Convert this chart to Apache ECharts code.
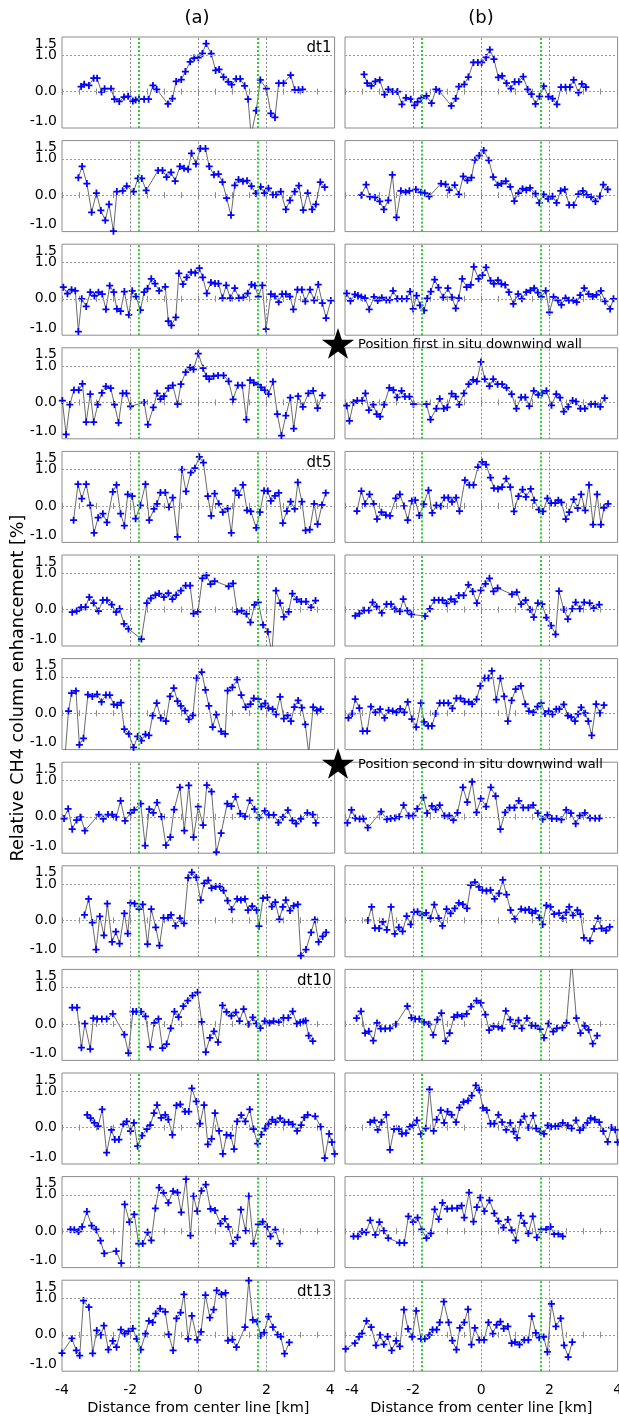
<!DOCTYPE html>
<html>
<head>
<meta charset="utf-8">
<script src="https://cdn.jsdelivr.net/npm/echarts@6/dist/echarts.min.js"></script>
<style>
  html, body { margin: 0; padding: 0; background: #fff; }
  #main { width: 619px; height: 1418px; }
</style>
</head>
<body>
<div id="main"></div>
<script>
// [distance from center line km, relative CH4 enhancement %], column (a)
const a1 = [[-3.44,0.14],[-3.35,0.20],[-3.21,0.17],[-3.07,0.37],[-2.97,0.37],[-2.84,-0.01],[-2.75,0.08],[-2.56,0.08],[-2.46,-0.21],[-2.32,-0.27],[-2.18,-0.15],[-2.06,-0.13],[-1.92,-0.26],[-1.84,-0.23],[-1.74,-0.21],[-1.59,-0.21],[-1.46,-0.21],[-1.33,0.17],[-1.22,0.06],[-0.89,-0.34],[-0.76,-0.19],[-0.65,0.28],[-0.50,0.33],[-0.38,0.55],[-0.24,0.82],[-0.12,0.92],[0.0,0.93],[0.12,1.05],[0.23,1.32],[0.38,1.04],[0.51,0.58],[0.61,0.61],[0.74,0.40],[0.88,0.27],[0.98,0.19],[1.11,0.35],[1.23,0.35],[1.36,0.16],[1.46,-0.21],[1.55,-1.2],[1.70,-0.52],[1.82,0.32],[2.0,0.08],[2.13,-0.60],[2.25,-0.71],[2.36,0.23],[2.50,0.23],[2.71,0.45],[2.83,0.05],[2.94,0.05],[3.06,0.06]];
const a2 = [[-3.52,0.48],[-3.41,0.79],[-3.27,0.32],[-3.13,-0.47],[-2.99,0.06],[-2.86,-0.42],[-2.73,-0.69],[-2.62,-0.25],[-2.49,-0.99],[-2.39,0.10],[-2.22,0.12],[-2.10,0.25],[-1.90,0.10],[-1.77,0.46],[-1.66,0.46],[-1.53,0.13],[-1.18,0.68],[-1.05,0.68],[-0.93,0.50],[-0.80,0.63],[-0.68,0.39],[-0.54,0.79],[-0.42,0.74],[-0.30,0.71],[-0.20,1.15],[-0.07,0.86],[0.06,1.28],[0.21,1.28],[0.32,0.79],[0.46,0.56],[0.59,0.58],[0.71,0.36],[0.83,-0.08],[0.96,-0.55],[1.07,0.27],[1.18,0.43],[1.31,0.38],[1.43,0.40],[1.56,0.25],[1.69,0.05],[1.83,0.23],[1.94,0.06],[2.06,0.19],[2.19,0.01],[2.28,0.01],[2.42,0.10],[2.57,-0.39],[2.69,-0.14],[2.83,0.10],[2.95,0.26],[3.08,-0.41],[3.21,0.06],[3.34,-0.39],[3.45,-0.25],[3.58,0.36],[3.71,0.22]];
const a3 = [[-3.96,0.32],[-3.84,0.14],[-3.72,0.25],[-3.61,0.22],[-3.52,-0.90],[-3.42,0.0],[-3.29,-0.21],[-3.17,0.18],[-3.05,0.08],[-2.93,0.18],[-2.82,0.13],[-2.71,-0.29],[-2.60,0.36],[-2.48,0.18],[-2.39,-0.28],[-2.28,-0.34],[-2.17,0.20],[-2.04,-0.44],[-1.94,0.22],[-1.83,0.06],[-1.70,-0.31],[-1.59,0.18],[-1.49,0.28],[-1.38,0.55],[-1.27,0.42],[-1.15,0.22],[-0.97,0.33],[-0.88,-0.61],[-0.79,-0.73],[-0.66,-0.51],[-0.57,0.70],[-0.45,0.40],[-0.34,0.59],[-0.21,0.73],[-0.09,0.71],[0.03,0.84],[0.13,0.59],[0.25,0.15],[0.37,0.45],[0.49,0.42],[0.59,0.42],[0.71,0.02],[0.82,0.37],[0.94,0.02],[1.07,0.29],[1.19,0.02],[1.32,0.04],[1.45,0.15],[1.56,0.39],[1.66,0.36],[1.76,0.06],[1.88,0.37],[1.99,-0.83],[2.13,0.13],[2.25,0.07],[2.36,-0.09],[2.46,0.13],[2.57,0.13],[2.69,0.06],[2.79,-0.29],[2.91,0.25],[3.04,0.25],[3.14,-0.07],[3.28,0.25],[3.40,-0.04],[3.52,0.39],[3.64,-0.12],[3.75,-0.53],[3.89,-0.05]];
const a4 = [[-3.99,0.05],[-3.88,-0.88],[-3.77,-0.06],[-3.65,0.34],[-3.51,0.34],[-3.40,0.51],[-3.29,-0.54],[-3.17,0.23],[-3.07,-0.54],[-2.95,-0.06],[-2.83,0.26],[-2.71,0.44],[-2.57,0.39],[-2.46,-0.06],[-2.34,-0.56],[-2.22,0.25],[-2.11,0.25],[-1.99,-0.11],[-1.59,0.0],[-1.48,-0.61],[-1.32,-0.14],[-1.21,0.25],[-1.11,0.09],[-1.01,0.17],[-0.88,0.39],[-0.75,0.47],[-0.61,-0.05],[-0.51,0.50],[-0.37,0.83],[-0.24,0.96],[-0.14,0.91],[0.0,1.34],[0.14,0.94],[0.23,0.72],[0.32,0.64],[0.45,0.72],[0.58,0.74],[0.74,0.74],[0.89,0.58],[1.02,0.08],[1.16,0.47],[1.29,0.47],[1.41,-0.47],[1.52,0.61],[1.63,0.54],[1.75,0.49],[1.84,0.41],[1.95,0.34],[2.06,0.23],[2.19,0.57],[2.32,-0.32],[2.44,-0.91],[2.57,-0.36],[2.70,0.13],[2.80,-0.72],[2.93,0.17],[3.07,-0.12],[3.23,0.25],[3.37,0.32],[3.50,-0.16],[3.64,0.19]];
const a5 = [[-3.66,-0.39],[-3.53,0.60],[-3.42,0.20],[-3.29,0.60],[-3.17,0.02],[-3.06,-0.74],[-2.94,-0.32],[-2.80,-0.21],[-2.68,-0.45],[-2.51,0.39],[-2.40,0.58],[-2.28,-0.21],[-2.17,-0.54],[-2.07,0.32],[-1.94,0.27],[-1.84,-0.35],[-1.70,0.02],[-1.55,0.60],[-1.44,-0.39],[-1.30,-0.08],[-1.21,0.06],[-1.11,0.37],[-0.97,0.37],[-0.86,-0.03],[-0.75,0.23],[-0.61,-0.85],[-0.48,1.0],[-0.36,0.40],[-0.22,0.92],[-0.10,1.04],[0.03,1.35],[0.15,1.19],[0.28,0.27],[0.38,-0.27],[0.48,0.34],[0.60,0.06],[0.72,-0.17],[0.86,-0.07],[0.97,-0.74],[1.09,0.42],[1.19,0.30],[1.31,0.58],[1.43,-0.12],[1.54,-0.15],[1.70,-0.60],[1.81,-0.17],[1.93,0.42],[2.04,0.41],[2.13,0.14],[2.25,0.28],[2.36,0.36],[2.48,-0.47],[2.60,-0.14],[2.71,0.12],[2.83,-0.08],[2.92,0.65],[3.04,0.12],[3.15,-0.67],[3.27,-0.65],[3.40,0.06],[3.50,-0.50],[3.63,0.03],[3.74,0.36]];
const a6 = [[-3.70,-0.07],[-3.57,-0.04],[-3.44,0.06],[-3.31,0.07],[-3.20,0.34],[-3.07,0.18],[-2.93,-0.04],[-2.80,0.26],[-2.68,0.26],[-2.54,0.14],[-2.41,-0.07],[-2.31,0.02],[-2.18,-0.39],[-2.05,-0.53],[-1.67,-0.81],[-1.51,0.18],[-1.39,0.31],[-1.26,0.40],[-1.15,0.44],[-1.01,0.34],[-0.88,0.45],[-0.76,0.29],[-0.65,0.40],[-0.51,0.52],[-0.37,0.66],[-0.24,0.66],[-0.14,-0.11],[-0.01,-0.06],[0.12,0.86],[0.24,0.94],[0.36,0.70],[0.48,0.78],[0.89,0.64],[1.02,0.72],[1.14,-0.06],[1.27,-0.03],[1.41,-0.12],[1.53,-0.35],[1.65,0.13],[1.76,0.20],[1.90,-0.42],[2.04,-0.61],[2.16,-1.2],[2.28,0.52],[2.40,0.18],[2.51,-0.20],[2.65,-0.06],[2.76,0.44],[2.89,0.28],[3.02,0.22],[3.16,0.22],[3.31,0.06],[3.44,0.25]];
const a7 = [[-3.92,-1.3],[-3.81,0.06],[-3.72,0.55],[-3.59,0.61],[-3.49,-0.87],[-3.37,-0.69],[-3.24,0.51],[-3.11,0.46],[-2.97,0.52],[-2.84,0.31],[-2.71,0.50],[-2.60,0.50],[-2.48,0.24],[-2.38,0.22],[-2.27,0.29],[-2.17,-0.44],[-2.04,-0.57],[-1.90,-0.94],[-1.78,-0.64],[-1.67,-0.75],[-1.55,-0.58],[-1.45,-0.61],[-1.34,-0.07],[-1.22,0.28],[-1.10,-0.13],[-0.95,-0.22],[-0.83,0.46],[-0.72,0.69],[-0.61,0.33],[-0.51,0.20],[-0.39,0.07],[-0.28,-0.17],[-0.16,-0.06],[-0.05,0.97],[0.10,1.13],[0.21,0.64],[0.31,0.20],[0.42,-0.38],[0.53,-0.04],[0.67,-0.50],[0.79,-0.57],[0.86,0.62],[1.00,0.71],[1.14,0.92],[1.26,0.50],[1.39,0.17],[1.53,0.25],[1.63,0.41],[1.76,0.39],[1.85,0.18],[1.96,0.27],[2.06,0.14],[2.18,0.11],[2.28,-0.03],[2.40,0.45],[2.51,-0.15],[2.62,-0.06],[2.72,-0.22],[2.82,0.17],[2.93,0.35],[3.04,0.15],[3.14,-0.31],[3.24,-1.1],[3.37,0.17],[3.48,0.07],[3.59,0.11]];
const a8 = [[-3.94,-0.05],[-3.82,0.22],[-3.70,-0.34],[-3.57,-0.09],[-3.45,-0.01],[-3.33,-0.38],[-2.92,0.06],[-2.79,-0.06],[-2.65,0.06],[-2.53,0.06],[-2.41,-0.01],[-2.28,0.44],[-2.15,-0.11],[-1.99,0.11],[-1.88,0.19],[-1.69,0.36],[-1.56,-0.79],[-1.44,0.21],[-1.32,0.11],[-1.21,0.39],[-1.08,0.0],[-0.95,-0.78],[-0.82,-0.56],[-0.71,0.20],[-0.54,0.81],[-0.41,-0.38],[-0.28,0.86],[-0.14,-0.56],[0.0,0.28],[0.14,-0.23],[0.25,0.87],[0.39,0.69],[0.53,-0.97],[0.67,-0.45],[0.85,0.36],[0.97,0.29],[1.09,0.55],[1.23,0.09],[1.37,0.01],[1.51,0.45],[1.65,0.21],[1.78,-0.02],[1.95,0.16],[2.07,0.05],[2.21,0.05],[2.35,-0.16],[2.48,-0.01],[2.63,0.18],[2.76,-0.10],[2.87,-0.19],[3.01,-0.06],[3.20,0.11],[3.36,0.06],[3.45,-0.17]];
const a9 = [[-3.34,0.15],[-3.22,0.59],[-3.11,-0.06],[-3.00,-0.80],[-2.89,0.11],[-2.77,-0.41],[-2.67,0.46],[-2.53,-0.59],[-2.42,-0.31],[-2.31,-0.64],[-2.17,0.19],[-2.07,-0.36],[-1.99,0.48],[-1.87,0.46],[-1.74,0.31],[-1.63,0.44],[-1.49,-0.65],[-1.38,0.31],[-1.25,-0.19],[-1.14,-0.69],[-1.02,0.07],[-0.89,0.07],[-0.80,0.15],[-0.67,-0.15],[-0.54,0.06],[-0.42,-0.08],[-0.30,1.17],[-0.19,1.32],[-0.06,1.18],[0.07,0.56],[0.17,1.02],[0.29,1.10],[0.39,0.89],[0.51,0.93],[0.63,0.93],[0.74,0.82],[0.86,0.54],[0.98,0.30],[1.14,0.59],[1.25,0.56],[1.37,0.59],[1.46,0.28],[1.58,0.39],[1.71,0.28],[1.78,-0.16],[1.90,0.61],[2.02,0.63],[2.16,0.38],[2.26,0.50],[2.38,0.03],[2.48,0.37],[2.57,0.56],[2.69,0.27],[2.80,0.40],[2.92,0.44],[3.01,-0.97],[3.16,-0.80],[3.31,-0.33],[3.42,0.02],[3.53,-0.59],[3.65,-0.44],[3.75,-0.33]];
const a10 = [[-3.70,0.45],[-3.56,0.45],[-3.43,-0.65],[-3.33,0.01],[-3.17,-0.69],[-3.08,0.16],[-2.97,0.14],[-2.83,0.14],[-2.69,0.14],[-2.51,0.28],[-2.17,-0.29],[-2.05,-0.80],[-1.92,0.34],[-1.82,0.34],[-1.68,0.34],[-1.55,0.21],[-1.41,-0.63],[-1.29,0.03],[-1.17,0.14],[-1.05,-0.66],[-0.93,-0.55],[-0.81,-0.12],[-0.70,0.34],[-0.58,0.19],[-0.44,0.49],[-0.31,0.64],[-0.17,0.78],[-0.02,0.87],[0.10,0.06],[0.22,-0.77],[0.34,-0.38],[0.46,-0.20],[0.58,-0.50],[0.71,0.51],[0.83,0.33],[0.97,0.22],[1.10,0.32],[1.21,0.08],[1.33,0.41],[1.47,-0.01],[1.60,0.18],[1.70,0.01],[1.82,-0.11],[1.95,0.08],[2.09,0.03],[2.21,0.08],[2.36,0.05],[2.50,0.17],[2.64,0.17],[2.77,0.35],[2.89,0.01],[2.99,0.05],[3.08,0.06],[3.15,0.09],[3.24,-0.32],[3.36,-0.47]];
const a11 = [[-3.26,0.35],[-3.16,0.26],[-3.05,0.13],[-2.94,0.04],[-2.82,0.50],[-2.69,-0.69],[-2.55,-0.06],[-2.45,-0.33],[-2.33,-0.33],[-2.20,0.09],[-2.10,0.17],[-1.99,-0.10],[-1.89,0.13],[-1.78,-0.51],[-1.65,-0.22],[-1.51,-0.04],[-1.41,0.07],[-1.30,0.40],[-1.21,0.62],[-1.09,0.27],[-0.97,0.35],[-0.88,0.22],[-0.76,-0.20],[-0.64,0.61],[-0.53,0.64],[-0.39,0.44],[-0.28,0.44],[-0.19,1.08],[-0.06,0.72],[0.05,0.11],[0.17,0.62],[0.28,-0.46],[0.39,-0.31],[0.49,0.40],[0.61,-0.09],[0.72,-0.72],[0.83,-0.20],[0.95,-0.22],[1.05,-0.59],[1.14,0.17],[1.26,0.34],[1.38,0.17],[1.51,0.50],[1.62,-0.04],[1.74,-0.44],[1.85,-0.19],[1.96,-0.02],[2.06,0.10],[2.17,0.22],[2.27,0.15],[2.40,0.26],[2.53,0.15],[2.65,0.15],[2.77,0.09],[2.90,-0.09],[3.02,0.07],[3.11,0.28],[3.21,0.35],[3.43,0.31],[3.59,0.02],[3.71,-0.84],[3.84,-0.17],[3.92,-0.40],[4.0,-0.72]];
const a12 = [[-3.75,0.05],[-3.64,0.04],[-3.52,-0.01],[-3.41,0.12],[-3.27,0.54],[-3.13,0.15],[-3.00,0.05],[-2.87,-0.26],[-2.76,-0.61],[-2.41,-0.55],[-2.26,-0.88],[-2.16,0.74],[-2.02,0.25],[-1.88,0.46],[-1.75,-0.34],[-1.63,-0.34],[-1.49,-0.03],[-1.38,-0.25],[-1.26,0.63],[-1.15,1.20],[-1.02,1.05],[-0.88,0.78],[-0.74,1.10],[-0.61,1.06],[-0.50,0.52],[-0.36,1.43],[-0.23,-0.12],[-0.14,0.97],[-0.03,0.55],[0.09,1.11],[0.22,1.28],[0.36,0.61],[0.49,0.57],[0.65,0.21],[0.78,0.34],[0.88,0.12],[1.02,-0.34],[1.15,-0.17],[1.25,0.59],[1.39,0.01],[1.48,0.97],[1.62,-0.34],[1.76,0.19],[1.89,0.26],[2.02,0.12],[2.12,-0.14],[2.26,0.04],[2.39,-0.34]];
const a13 = [[-4.0,-0.50],[-3.71,-0.10],[-3.58,-0.43],[-3.48,-0.57],[-3.37,0.94],[-3.21,0.76],[-3.10,-0.51],[-2.98,0.12],[-2.86,-0.01],[-2.77,0.25],[-2.64,-0.41],[-2.51,-0.17],[-2.40,-0.34],[-2.27,0.14],[-2.16,0.03],[-2.05,0.10],[-1.92,0.17],[-1.81,-0.11],[-1.69,-0.41],[-1.55,0.03],[-1.45,0.38],[-1.34,0.34],[-1.25,0.58],[-1.12,0.72],[-0.97,0.63],[-0.87,0.01],[-0.74,-0.43],[-0.64,0.45],[-0.52,0.61],[-0.42,1.11],[-0.30,-0.11],[-0.19,0.52],[-0.03,-0.14],[0.08,0.08],[0.21,1.09],[0.34,0.47],[0.45,0.69],[0.54,1.22],[0.68,1.11],[0.80,1.15],[0.87,-0.16],[1.00,-0.13],[1.12,-0.34],[1.37,0.21],[1.48,1.49],[1.60,0.41],[1.73,0.36],[1.83,-0.02],[1.93,0.06],[2.06,0.50],[2.19,0.21],[2.33,0.0],[2.42,-0.05],[2.53,-0.52],[2.67,-0.21]];

// column (b)
const b1 = [[-3.44,0.47],[-3.35,0.23],[-3.23,0.16],[-3.11,0.28],[-2.98,0.32],[-2.84,-0.08],[-2.73,0.06],[-2.60,0.0],[-2.46,0.0],[-2.33,-0.35],[-2.21,-0.17],[-2.07,-0.21],[-1.96,-0.38],[-1.87,-0.28],[-1.76,-0.18],[-1.61,-0.12],[-1.46,-0.32],[-1.33,0.06],[-1.23,0.01],[-0.88,-0.39],[-0.75,-0.19],[-0.66,0.14],[-0.50,0.20],[-0.38,0.40],[-0.23,0.80],[-0.10,0.80],[0.01,0.80],[0.14,0.94],[0.25,1.15],[0.37,0.89],[0.50,0.39],[0.61,0.43],[0.74,0.23],[0.87,0.08],[0.98,0.27],[1.10,0.27],[1.23,0.41],[1.36,0.06],[1.47,-0.07],[1.59,-0.34],[1.71,-0.13],[1.83,0.15],[1.97,-0.14],[2.09,-0.19],[2.22,-0.35],[2.34,0.12],[2.47,0.12],[2.60,0.12],[2.71,0.32],[2.85,-0.03],[2.95,0.21],[3.07,0.12]];
const b2 = [[-3.52,0.0],[-3.38,0.29],[-3.27,-0.04],[-3.12,-0.06],[-2.98,-0.17],[-2.86,-0.39],[-2.73,-0.14],[-2.61,0.56],[-2.49,-0.61],[-2.36,0.12],[-2.22,0.08],[-2.11,0.12],[-1.92,0.16],[-1.77,0.08],[-1.66,0.06],[-1.53,-0.03],[-1.18,0.32],[-1.05,0.30],[-0.94,0.14],[-0.78,0.28],[-0.66,0.02],[-0.53,0.52],[-0.41,0.41],[-0.29,0.48],[-0.19,0.97],[-0.06,1.09],[0.07,1.23],[0.22,0.96],[0.35,0.50],[0.48,0.28],[0.59,0.32],[0.72,0.39],[0.85,0.23],[0.97,-0.16],[1.09,0.06],[1.21,0.18],[1.32,0.14],[1.43,0.20],[1.59,0.04],[1.70,-0.21],[1.83,0.02],[1.96,-0.10],[2.09,-0.03],[2.21,-0.21],[2.33,0.12],[2.45,0.16],[2.58,-0.27],[2.71,-0.27],[2.85,0.03],[2.98,0.12],[3.09,0.01],[3.22,-0.05],[3.35,-0.17],[3.48,-0.02],[3.58,0.29],[3.71,0.16]];
const b3 = [[-3.95,0.15],[-3.84,-0.06],[-3.71,0.12],[-3.62,0.09],[-3.52,0.05],[-3.41,0.02],[-3.29,-0.29],[-3.15,0.05],[-3.04,-0.05],[-2.92,0.03],[-2.79,-0.03],[-2.69,-0.03],[-2.59,0.22],[-2.46,0.0],[-2.33,0.0],[-2.19,0.0],[-2.09,0.20],[-2.00,-0.28],[-1.90,0.09],[-1.80,-0.18],[-1.68,-0.32],[-1.59,0.01],[-1.48,0.20],[-1.37,0.53],[-1.26,0.31],[-1.12,0.04],[-0.98,0.29],[-0.86,0.04],[-0.75,-0.26],[-0.66,0.02],[-0.56,0.55],[-0.43,0.32],[-0.31,0.38],[-0.22,0.88],[-0.08,0.55],[0.03,0.65],[0.14,0.86],[0.27,0.50],[0.37,0.41],[0.49,0.51],[0.59,0.41],[0.70,0.38],[0.81,0.18],[0.94,-0.14],[1.08,0.13],[1.19,0.0],[1.32,0.18],[1.44,0.23],[1.55,0.29],[1.66,0.17],[1.76,0.05],[1.89,0.22],[2.00,-0.37],[2.12,0.05],[2.25,-0.04],[2.35,-0.17],[2.47,0.02],[2.57,-0.04],[2.70,-0.04],[2.80,-0.09],[2.90,0.10],[3.02,0.29],[3.15,0.13],[3.27,0.06],[3.38,0.11],[3.51,0.22],[3.63,-0.07],[3.78,-0.28],[3.88,0.0]];
const b4 = [[-3.95,-0.09],[-3.87,-0.51],[-3.75,0.0],[-3.64,0.05],[-3.50,0.05],[-3.40,0.25],[-3.30,-0.21],[-3.17,-0.06],[-3.07,-0.32],[-2.97,-0.39],[-2.85,-0.06],[-2.70,0.40],[-2.58,0.34],[-2.47,0.14],[-2.34,0.32],[-2.24,0.16],[-2.11,0.16],[-1.99,-0.05],[-1.61,-0.05],[-1.49,-0.47],[-1.32,-0.17],[-1.22,0.10],[-1.10,-0.17],[-1.00,-0.14],[-0.87,0.24],[-0.75,0.16],[-0.65,-0.06],[-0.51,0.25],[-0.37,0.50],[-0.24,0.62],[-0.13,0.58],[-0.01,1.11],[0.10,0.64],[0.24,0.45],[0.35,0.64],[0.48,0.50],[0.61,0.50],[0.74,0.40],[0.89,0.23],[1.03,-0.17],[1.17,0.14],[1.29,0.14],[1.41,-0.10],[1.54,0.32],[1.67,0.21],[1.78,0.25],[1.91,0.32],[2.06,-0.08],[2.20,0.23],[2.31,0.13],[2.42,-0.25],[2.55,-0.12],[2.68,0.05],[2.78,0.02],[2.91,-0.17],[3.04,-0.17],[3.22,-0.05],[3.34,-0.05],[3.49,-0.12],[3.62,0.12]];
const b5 = [[-3.65,-0.14],[-3.52,0.41],[-3.41,0.06],[-3.28,0.32],[-3.16,0.06],[-3.06,-0.36],[-2.93,-0.17],[-2.80,-0.25],[-2.68,-0.27],[-2.51,0.21],[-2.39,0.32],[-2.27,0.0],[-2.16,-0.39],[-2.04,0.14],[-1.94,0.16],[-1.82,-0.26],[-1.69,0.05],[-1.55,0.43],[-1.44,-0.19],[-1.32,0.02],[-1.19,-0.01],[-1.09,0.23],[-0.97,0.23],[-0.86,0.11],[-0.74,0.23],[-0.64,-0.14],[-0.48,0.71],[-0.35,0.58],[-0.23,0.58],[-0.10,1.07],[0.02,1.21],[0.14,1.14],[0.27,0.78],[0.37,0.49],[0.49,0.47],[0.61,0.52],[0.73,0.75],[0.85,0.52],[0.96,-0.15],[1.09,0.27],[1.21,0.45],[1.31,0.25],[1.45,0.47],[1.55,0.16],[1.69,-0.10],[1.81,-0.15],[1.94,0.21],[2.05,0.08],[2.17,0.08],[2.26,0.16],[2.35,0.10],[2.48,-0.36],[2.58,-0.17],[2.71,0.18],[2.83,-0.06],[2.93,0.32],[3.05,-0.12],[3.16,0.58],[3.28,-0.51],[3.40,0.32],[3.51,-0.51],[3.60,-0.05],[3.72,0.06]];
const b6 = [[-3.70,-0.17],[-3.58,-0.11],[-3.44,-0.02],[-3.30,-0.02],[-3.19,0.20],[-3.07,0.08],[-2.92,-0.09],[-2.78,0.15],[-2.65,0.15],[-2.54,0.01],[-2.39,-0.05],[-2.29,0.29],[-2.17,-0.03],[-2.05,-0.13],[-1.65,-0.18],[-1.51,0.02],[-1.38,0.26],[-1.25,0.26],[-1.14,0.26],[-1.02,0.17],[-0.89,0.29],[-0.78,0.22],[-0.66,0.39],[-0.52,0.39],[-0.38,0.68],[-0.25,0.50],[-0.13,0.18],[-0.01,0.53],[0.12,0.71],[0.24,0.86],[0.36,0.50],[0.48,0.59],[0.90,0.42],[1.04,0.48],[1.17,0.15],[1.30,0.26],[1.43,0.0],[1.54,-0.21],[1.66,0.18],[1.78,0.15],[1.91,-0.22],[2.05,-0.44],[2.18,-0.68],[2.28,0.51],[2.42,0.0],[2.54,-0.26],[2.67,0.02],[2.77,0.20],[2.89,0.02],[3.02,0.20],[3.18,0.18],[3.30,0.04],[3.46,0.14]];
const b7 = [[-3.90,-0.13],[-3.79,-0.01],[-3.70,0.39],[-3.58,0.14],[-3.48,-0.49],[-3.35,-0.49],[-3.24,0.18],[-3.11,0.02],[-2.97,0.11],[-2.84,-0.13],[-2.72,0.08],[-2.60,0.06],[-2.49,0.02],[-2.38,0.12],[-2.26,0.02],[-2.16,0.31],[-2.04,-0.16],[-1.91,-0.38],[-1.77,0.28],[-1.68,-0.24],[-1.56,-0.35],[-1.45,-0.35],[-1.34,-0.01],[-1.22,0.28],[-1.10,0.28],[-0.97,0.28],[-0.85,0.13],[-0.73,0.41],[-0.61,0.41],[-0.49,0.32],[-0.37,0.31],[-0.27,0.25],[-0.14,0.38],[-0.03,0.75],[0.10,0.97],[0.21,0.97],[0.31,1.16],[0.44,0.37],[0.56,0.96],[0.67,0.46],[0.78,-0.22],[0.89,0.35],[1.01,0.66],[1.16,0.75],[1.29,0.25],[1.40,0.06],[1.53,0.02],[1.65,0.18],[1.76,0.28],[1.87,-0.01],[1.98,0.06],[2.09,-0.03],[2.20,0.11],[2.29,0.11],[2.42,0.24],[2.54,-0.07],[2.64,-0.11],[2.75,-0.22],[2.84,-0.02],[2.93,0.16],[3.05,0.0],[3.14,-0.22],[3.24,-0.61],[3.37,0.25],[3.48,0.0],[3.60,0.22]];
const b8 = [[-3.93,-0.17],[-3.81,0.19],[-3.70,-0.03],[-3.57,-0.06],[-3.46,-0.06],[-3.33,-0.30],[-2.94,0.14],[-2.77,-0.07],[-2.66,-0.05],[-2.54,-0.03],[-2.41,0.0],[-2.28,0.32],[-2.13,0.03],[-2.00,0.03],[-1.88,0.22],[-1.70,0.53],[-1.59,0.10],[-1.45,0.30],[-1.34,0.20],[-1.22,0.32],[-1.08,0.03],[-0.94,0.03],[-0.82,-0.09],[-0.70,0.11],[-0.54,0.81],[-0.41,0.40],[-0.27,0.96],[-0.14,0.12],[-0.01,0.50],[0.14,0.28],[0.28,0.81],[0.42,0.57],[0.56,-0.34],[0.70,0.12],[0.83,0.25],[0.97,0.25],[1.10,0.44],[1.23,0.25],[1.38,0.25],[1.52,0.32],[1.66,0.10],[1.80,-0.07],[1.94,0.05],[2.07,-0.05],[2.21,-0.05],[2.35,-0.08],[2.49,0.19],[2.63,0.10],[2.77,-0.19],[2.89,0.03],[3.04,0.11],[3.19,-0.03],[3.34,-0.04],[3.46,-0.04]];
const b9 = [[-3.33,0.0],[-3.22,0.37],[-3.12,-0.21],[-3.00,-0.22],[-2.89,-0.04],[-2.77,-0.26],[-2.65,0.37],[-2.54,-0.37],[-2.42,-0.19],[-2.31,-0.30],[-2.19,0.12],[-2.07,-0.11],[-1.98,0.23],[-1.87,0.24],[-1.74,0.14],[-1.62,0.21],[-1.49,0.06],[-1.38,0.43],[-1.25,0.06],[-1.14,-0.15],[-1.02,0.31],[-0.90,0.19],[-0.78,0.33],[-0.66,0.48],[-0.54,0.44],[-0.42,0.33],[-0.31,0.97],[-0.19,1.05],[-0.07,0.92],[0.03,0.83],[0.15,0.81],[0.27,0.83],[0.39,0.59],[0.52,0.74],[0.63,1.11],[0.74,0.71],[0.86,0.28],[0.98,0.04],[1.17,0.31],[1.29,0.28],[1.40,0.30],[1.49,0.20],[1.59,0.26],[1.70,0.07],[1.80,-0.11],[1.91,0.41],[2.03,0.37],[2.14,0.17],[2.28,0.20],[2.39,0.06],[2.49,0.22],[2.58,0.37],[2.69,0.14],[2.82,0.28],[2.91,0.17],[3.01,-0.48],[3.19,-0.56],[3.31,-0.23],[3.42,0.06],[3.53,-0.22],[3.66,-0.28],[3.77,-0.18]];
const b10 = [[-3.66,0.16],[-3.53,0.35],[-3.41,-0.25],[-3.30,-0.20],[-3.17,-0.46],[-3.06,0.03],[-2.95,-0.13],[-2.82,-0.13],[-2.68,-0.12],[-2.51,-0.01],[-2.17,0.49],[-2.05,0.17],[-1.94,0.14],[-1.82,0.14],[-1.68,0.05],[-1.54,-0.01],[-1.41,-0.30],[-1.29,0.12],[-1.17,0.30],[-1.05,-0.47],[-0.93,-0.25],[-0.80,0.19],[-0.70,0.25],[-0.57,0.21],[-0.43,0.28],[-0.30,0.48],[-0.14,0.64],[-0.01,0.58],[0.12,0.26],[0.23,-0.17],[0.36,-0.06],[0.50,-0.08],[0.61,-0.12],[0.72,0.36],[0.85,0.12],[0.97,-0.06],[1.09,0.10],[1.19,-0.12],[1.34,0.16],[1.47,-0.04],[1.59,-0.05],[1.73,-0.14],[1.84,-0.38],[1.97,0.01],[2.11,-0.21],[2.22,-0.12],[2.38,-0.10],[2.50,0.03],[2.65,1.75],[2.79,0.16],[2.91,-0.25],[3.04,-0.05],[3.15,-0.16],[3.27,-0.54],[3.40,-0.32]];
const b11 = [[-3.26,0.15],[-3.14,0.20],[-3.04,-0.06],[-2.93,0.15],[-2.79,0.35],[-2.68,-0.61],[-2.56,-0.04],[-2.42,-0.04],[-2.33,-0.17],[-2.21,-0.15],[-2.10,0.02],[-2.00,0.07],[-1.89,0.20],[-1.77,-0.18],[-1.63,-0.02],[-1.52,1.05],[-1.40,-0.09],[-1.31,0.22],[-1.19,0.48],[-1.09,0.13],[-0.99,0.44],[-0.87,0.35],[-0.74,0.15],[-0.64,0.55],[-0.52,0.70],[-0.39,0.74],[-0.28,0.88],[-0.16,1.16],[-0.06,1.03],[0.05,0.54],[0.16,0.48],[0.27,0.11],[0.38,0.11],[0.50,0.35],[0.61,0.15],[0.73,-0.06],[0.85,0.13],[0.95,-0.11],[1.05,-0.28],[1.15,0.15],[1.26,0.31],[1.38,0.0],[1.52,0.33],[1.61,-0.02],[1.73,-0.11],[1.84,-0.17],[1.95,0.06],[2.05,0.02],[2.17,0.04],[2.26,0.04],[2.39,0.13],[2.54,0.06],[2.65,-0.02],[2.78,0.20],[2.89,-0.07],[2.99,0.0],[3.11,0.13],[3.21,0.26],[3.33,0.22],[3.46,0.15],[3.58,-0.10],[3.71,-0.39],[3.82,0.0],[3.93,-0.06],[4.0,-0.40]];
const b12 = [[-3.75,-0.14],[-3.62,-0.14],[-3.50,-0.01],[-3.38,-0.03],[-3.26,0.30],[-3.11,-0.10],[-2.99,0.25],[-2.86,0.01],[-2.73,-0.19],[-2.40,-0.32],[-2.26,-0.32],[-2.14,0.41],[-2.00,0.25],[-1.87,0.37],[-1.75,0.05],[-1.61,-0.19],[-1.48,-0.06],[-1.37,0.60],[-1.25,0.33],[-1.14,0.78],[-1.00,0.61],[-0.86,0.63],[-0.71,0.63],[-0.58,0.70],[-0.50,0.37],[-0.36,1.06],[-0.23,0.26],[-0.13,0.66],[-0.03,0.92],[0.09,0.55],[0.24,0.85],[0.38,0.49],[0.50,0.28],[0.65,0.10],[0.78,0.32],[0.89,0.03],[1.01,-0.25],[1.16,0.43],[1.26,0.22],[1.38,-0.06],[1.51,0.41],[1.63,-0.17],[1.76,0.05],[1.90,0.05],[2.03,0.12],[2.14,-0.08],[2.26,-0.08],[2.39,-0.14]];
const b13 = [[-3.98,-0.39],[-3.71,-0.23],[-3.59,-0.06],[-3.50,0.04],[-3.37,0.38],[-3.23,0.21],[-3.09,-0.29],[-2.97,-0.01],[-2.86,-0.26],[-2.75,-0.05],[-2.63,-0.43],[-2.50,-0.17],[-2.39,-0.32],[-2.27,0.69],[-2.15,0.16],[-2.03,-0.06],[-1.91,0.66],[-1.77,-0.11],[-1.66,-0.11],[-1.53,-0.01],[-1.43,0.14],[-1.31,0.14],[-1.22,0.34],[-1.10,0.91],[-0.96,0.34],[-0.85,-0.16],[-0.73,-0.41],[-0.63,0.19],[-0.50,0.34],[-0.39,0.70],[-0.29,-0.27],[-0.19,0.19],[-0.06,-0.14],[0.08,-0.14],[0.21,0.34],[0.34,0.03],[0.45,0.27],[0.56,0.36],[0.66,0.17],[0.78,0.23],[0.89,-0.23],[0.99,-0.20],[1.12,-0.27],[1.26,-0.14],[1.38,-0.14],[1.48,0.51],[1.60,0.05],[1.70,-0.08],[1.83,-0.06],[1.94,-0.47],[2.06,0.85],[2.19,0.23],[2.33,0.45],[2.43,-0.29],[2.55,-0.61],[2.67,-0.20]];

const panelsA = [a1, a2, a3, a4, a5, a6, a7, a8, a9, a10, a11, a12, a13];
const panelsB = [b1, b2, b3, b4, b5, b6, b7, b8, b9, b10, b11, b12, b13];
const dtNames = { 0: 'dt1', 4: 'dt5', 9: 'dt10', 12: 'dt13' };
const wallLines = [-1.75, 1.75];
const gridXs = [-2, 0, 2];
const gridYs = [0, 1];

const FONT = 'DejaVu Sans';
const TOP0 = 37, STEP = 103.6, H = 91, W = 272.6;
const LEFTS = [62, 345];
const PLUS = 'path://M3,0H5V3H8V5H5V8H3V5H0V3H3Z';

const grids = [], xAxes = [], yAxes = [], series = [], graphic = [];

[panelsA, panelsB].forEach((panels, col) => {
  panels.forEach((data, row) => {
    const gi = grids.length;
    const top = TOP0 + row * STEP;
    const isBottom = row === panels.length - 1;
    grids.push({
      left: LEFTS[col], top: top, width: W, height: H,
      outerBoundsMode: 'none',
      show: true, borderColor: '#8c8c8c', borderWidth: 1
    });
    const tickStyle = { color: '#888', width: 1 };
    // bottom axis
    xAxes.push({
      gridIndex: gi, type: 'value', min: -4, max: 4, interval: 2, position: 'bottom',
      axisLine: { show: false },
      splitLine: { show: false },
      axisTick: { show: true, inside: true, length: 3, lineStyle: tickStyle },
      minorTick: { show: true, splitNumber: 4, length: 3, lineStyle: tickStyle },
      axisLabel: {
        show: isBottom, color: '#000', fontFamily: FONT, fontSize: 14, margin: 12,
        showMinLabel: true, showMaxLabel: true,
        alignMinLabel: col ? 'left' : 'center', alignMaxLabel: col ? 'center' : 'right'
      },
      name: isBottom ? 'Distance from center line [km]' : '',
      nameLocation: 'middle', nameGap: 30,
      nameTextStyle: { color: '#000', fontFamily: FONT, fontSize: 14.5 }
    });
    // top axis (ticks only)
    xAxes.push({
      gridIndex: gi, type: 'value', min: -4, max: 4, interval: 2, position: 'top',
      axisLine: { show: false }, splitLine: { show: false },
      axisTick: { show: true, inside: true, length: 3, lineStyle: tickStyle },
      minorTick: { show: true, splitNumber: 4, length: 3, lineStyle: tickStyle },
      axisLabel: { show: false }
    });
    // main y axis: labels 1.0, 0.0, -1.0
    yAxes.push({
      gridIndex: gi, type: 'value', min: -1, max: 1.5, interval: 0.5,
      axisLine: { show: false }, axisTick: { show: false }, splitLine: { show: false },
      axisLabel: {
        show: col === 0, color: '#000', fontFamily: FONT, fontSize: 14, margin: 5,
        showMinLabel: true, showMaxLabel: false,
        verticalAlignMinLabel: 'bottom',
        formatter: v => (Math.abs(Math.abs(v) - 0.5) < 1e-6 || v > 1.2 ? '' : v.toFixed(1))
      }
    });
    series.push({
      type: 'line', xAxisIndex: 2 * gi, yAxisIndex: yAxes.length - 1, data: data,
      symbol: PLUS, symbolSize: 7, showSymbol: true,
      itemStyle: { color: '#0000ff' },
      lineStyle: { color: '#444', width: 0.8 },
      emphasis: { disabled: true },
      clip: true,
      markLine: {
        silent: true, symbol: ['none', 'none'], label: { show: false },
        animation: false, data: [].concat(
          gridYs.map(y => ({ yAxis: y, lineStyle: { color: '#999', type: [2, 2], width: 1 } })),
          gridXs.map(x => ({ xAxis: x, lineStyle: { color: '#888', type: [2, 2], width: 1 } })),
          wallLines.map(x => ({ xAxis: x, lineStyle: { color: '#2ecc2e', type: [2, 2], width: 2 } }))
        )
      }
    });
    // helper y axis only carrying the 1.5 label at the top edge
    yAxes.push({
      gridIndex: gi, type: 'value', min: -1, max: 1.5, interval: 2.5, position: 'left',
      axisLine: { show: false }, axisTick: { show: false }, splitLine: { show: false },
      axisLabel: {
        show: col === 0, color: '#000', fontFamily: FONT, fontSize: 14, margin: 5,
        showMaxLabel: true, showMinLabel: false, verticalAlignMaxLabel: 'top',
        formatter: v => (v > 1.2 ? v.toFixed(1) : '')
      }
    });
    if (col === 0 && dtNames[row]) {
      graphic.push({
        type: 'text', right: 619 - 331.5, top: top + 4,
        style: { text: dtNames[row], font: '15px "' + FONT + '"', fill: '#000' }
      });
    }
  });
});

// column titles and shared y title
graphic.push({ type: 'text', x: 197, y: 18, style: { text: '(a)', font: '18px "' + FONT + '"', fill: '#000', align: 'center', verticalAlign: 'middle' } });
graphic.push({ type: 'text', x: 481, y: 18, style: { text: '(b)', font: '18px "' + FONT + '"', fill: '#000', align: 'center', verticalAlign: 'middle' } });
graphic.push({
  type: 'text', x: 18, y: 688, rotation: Math.PI / 2,
  style: { text: 'Relative CH4 column enhancement [%]', font: '17.6px "' + FONT + '"', fill: '#000', align: 'center', verticalAlign: 'middle' }
});

// downwind wall markers
function starPoints(cx, cy, R, r) {
  const pts = [];
  for (let k = 0; k < 10; k++) {
    const a = -Math.PI / 2 + k * Math.PI / 5;
    const rad = k % 2 ? r : R;
    pts.push([cx + rad * Math.cos(a), cy + rad * Math.sin(a)]);
  }
  return pts;
}
[[345, 'Position first in situ downwind wall'], [765, 'Position second in situ downwind wall']].forEach(([cy, txt]) => {
  graphic.push({ type: 'polygon', shape: { points: starPoints(338, cy, 17, 6.6) }, style: { fill: '#000' }, z: 10 });
  graphic.push({ type: 'text', x: 358, y: cy, z: 10, style: { text: txt, font: '13px "' + FONT + '"', fill: '#000', verticalAlign: 'middle' } });
});

const chart = echarts.init(document.getElementById('main'), null, { renderer: 'canvas' });
chart.setOption({
  animation: false,
  backgroundColor: '#fff',
  grid: grids,
  xAxis: xAxes,
  yAxis: yAxes,
  series: series,
  graphic: graphic
});
</script>
</body>
</html>
